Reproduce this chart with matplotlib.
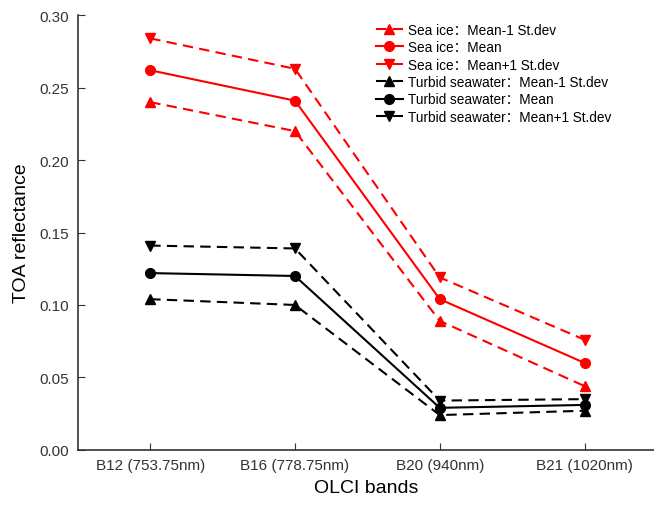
import matplotlib
matplotlib.use("Agg")
import matplotlib.pyplot as plt

plt.rcParams['font.family'] = ['Liberation Sans', 'Noto Sans CJK SC', 'DejaVu Sans']

bands = ["B12 (753.75nm)", "B16 (778.75nm)", "B20 (940nm)", "B21 (1020nm)"]

ice_low = [0.240, 0.220, 0.089, 0.044]
ice_mean = [0.262, 0.241, 0.104, 0.060]
ice_high = [0.284, 0.263, 0.119, 0.076]
water_low = [0.104, 0.100, 0.024, 0.027]
water_mean = [0.122, 0.120, 0.029, 0.031]
water_high = [0.141, 0.139, 0.034, 0.035]

fig = plt.figure(figsize=(6.54, 5.06), dpi=100)
ax = fig.add_axes([0.119, 0.109, 0.881, 0.859])

x = range(len(bands))
dash = (5, 3)
ax.plot(x, ice_low, color='red', ls='--', dashes=dash, marker='^', ms=7, lw=1.5,
        label="Sea ice\uff1aMean-1 St.dev")
ax.plot(x, ice_mean, color='red', ls='-', marker='o', ms=7, lw=1.5,
        label="Sea ice\uff1aMean")
ax.plot(x, ice_high, color='red', ls='--', dashes=dash, marker='v', ms=7, lw=1.5,
        label="Sea ice\uff1aMean+1 St.dev")
ax.plot(x, water_low, color='black', ls='--', dashes=dash, marker='^', ms=7, lw=1.5,
        label="Turbid seawater\uff1aMean-1 St.dev")
ax.plot(x, water_mean, color='black', ls='-', marker='o', ms=7, lw=1.5,
        label="Turbid seawater\uff1aMean")
ax.plot(x, water_high, color='black', ls='--', dashes=dash, marker='v', ms=7, lw=1.5,
        label="Turbid seawater\uff1aMean+1 St.dev")

ax.set_xlim(-0.5, 3.48)
ax.set_ylim(0, 0.30)
ax.set_xticks(list(x))
ax.set_xticklabels(bands)
ax.set_yticks([0, 0.05, 0.10, 0.15, 0.20, 0.25, 0.30])
ax.set_yticklabels(["0.00", "0.05", "0.10", "0.15", "0.20", "0.25", "0.30"])
ax.tick_params(direction='in', length=5, labelsize=11, colors='#333333',
               labelcolor='#333333', pad=6)
for s in ['top', 'right']:
    ax.spines[s].set_visible(False)
for s in ['left', 'bottom']:
    ax.spines[s].set_color('#333333')
    ax.spines[s].set_linewidth(1.2)

ax.set_xlabel("OLCI bands", fontsize=14, labelpad=5)
ax.set_ylabel("TOA reflectance", fontsize=14, labelpad=7)

ax.legend(loc='upper left', bbox_to_anchor=(0.56, 0.972), bbox_transform=fig.transFigure,
          frameon=False, fontsize=9.8, handlelength=2.0, handletextpad=0.4,
          labelspacing=0.25, borderpad=0.2)

fig.savefig("out.png", dpi=100)
